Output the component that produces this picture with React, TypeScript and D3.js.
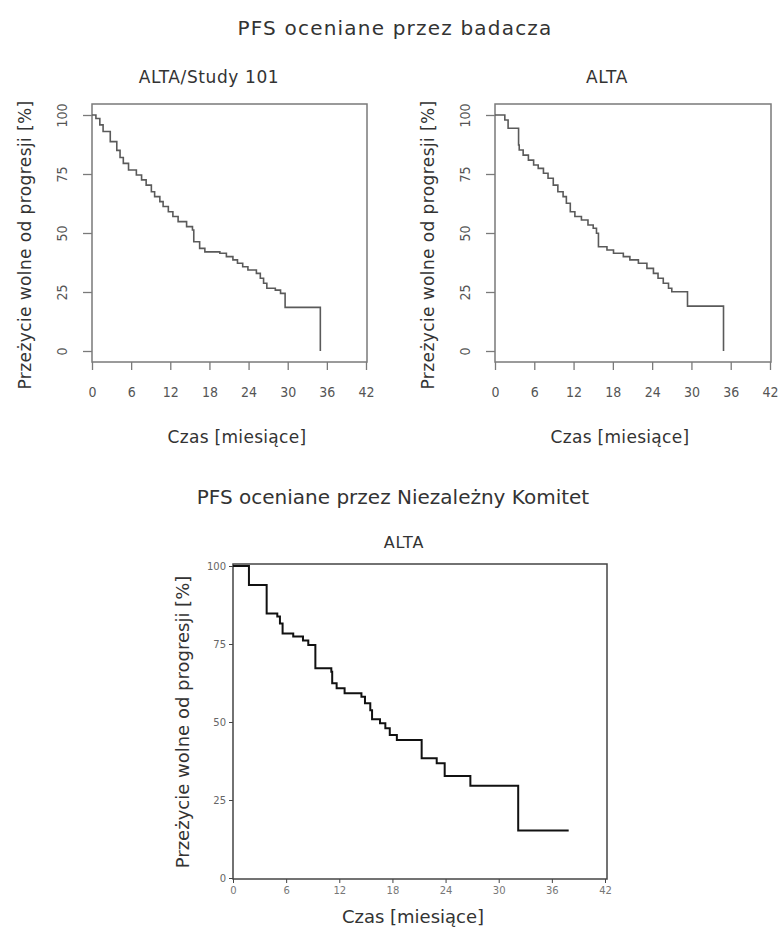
import React, { useEffect, useRef } from "react";
import * as d3 from "d3";

// shared axis ticks
const monthTicks = [0, 6, 12, 18, 24, 30, 36, 42];
const pctTicks = [0, 25, 50, 75, 100];

// PFS wg badacza - ALTA/Study 101
const study101Months = [0, 0.6, 1.2, 1.7, 2.8, 3.8, 4.3, 4.8, 5.6, 6.8, 7.6, 8.3, 9.1, 9.6, 10.4, 10.9, 11.7, 12.4, 13.2, 14.5, 15.4, 15.6, 16.5, 17.3, 19.6, 20.6, 21.6, 22.3, 23.1, 23.9, 25.2, 25.8, 26.3, 26.8, 28.1, 28.9, 29.6, 35.0];
const study101Pfs = [100, 98.5, 95.8, 93, 88.7, 85, 82, 79.5, 76.7, 74.6, 72.5, 70.3, 67.5, 65.4, 63.3, 61.2, 59, 57, 54.8, 52.7, 51.3, 46.3, 43.5, 42, 41.4, 40, 38.6, 37.2, 35.7, 34.3, 32.9, 30.8, 28.7, 26.6, 25.8, 24.4, 18.5, 0];

// PFS wg badacza - ALTA
const altaInvMonths = [0, 1.5, 2.0, 3.6, 3.7, 4.3, 5.1, 5.9, 6.6, 7.4, 8.1, 8.9, 9.6, 10.4, 10.9, 11.5, 12.2, 13.2, 14.2, 15.0, 15.5, 15.8, 17.1, 18.1, 19.6, 20.6, 21.9, 23.2, 24.2, 24.9, 25.7, 26.5, 27.0, 29.4, 34.9];
const altaInvPfs = [100, 97.9, 94.4, 87.3, 85.2, 83, 80.9, 78.8, 77.4, 75.3, 73.2, 70.3, 67.5, 65.4, 62.6, 59, 57, 55.5, 53.4, 52, 49.9, 44.2, 42.8, 41.4, 40, 38.6, 37.2, 35, 32.9, 30.8, 28.7, 26.6, 25.1, 19, 0];

// PFS wg Niezależnego Komitetu - ALTA
const altaIrcMonths = [0, 1.8, 3.8, 5.0, 5.3, 5.6, 6.8, 7.9, 8.5, 9.3, 11.1, 11.2, 11.7, 12.6, 14.5, 14.9, 15.5, 15.7, 16.6, 17.2, 17.7, 18.5, 21.3, 23.0, 23.9, 26.8, 32.2, 37.9];
const altaIrcPfs = [100, 93.9, 84.8, 83.8, 81.6, 78.4, 77.4, 76.1, 74.7, 67.2, 66.1, 62.4, 60.8, 59.2, 58.1, 56, 53.8, 50.9, 49.6, 48, 45.8, 44.2, 38.4, 36.8, 32.7, 29.6, 15.2, 15.2];

const FONT = "'DejaVu Sans', Verdana, sans-serif";
const TICK_FONT = "'DejaVu Sans Condensed', 'DejaVu Sans', sans-serif";
const yTitle = "Przeżycie wolne od progresji [%]";
const xTitle = "Czas [miesiące]";

const App = () => {
  const svgRef = useRef(null);

  const drawTopPanel = (svg, p) => {
    const x = d3.scaleLinear().domain([0, 42]).range([p.left, p.right]);
    const y = d3.scaleLinear().domain([0, 100]).range([351, 115]);
    const data = p.months.map((m, i) => [m, p.pfs[i]]);

    // frame
    svg
      .append("rect")
      .attr("x", p.left)
      .attr("y", 104)
      .attr("width", p.right - p.left + 1)
      .attr("height", 258)
      .attr("fill", "none")
      .attr("stroke", "#7a7a7a")
      .attr("stroke-width", 1.5);

    // x axis
    const gx = svg
      .append("g")
      .attr("transform", "translate(0,362)")
      .call(d3.axisBottom(x).tickValues(monthTicks).tickSize(8).tickPadding(17));
    gx.select(".domain").remove();
    gx.selectAll("line").attr("stroke", "#7a7a7a").attr("stroke-width", 1.3);
    gx.selectAll("text")
      .attr("font-family", TICK_FONT)
      .attr("font-size", 14)
      .attr("fill", "#555");

    // y axis (labels rotated, R style)
    const gy = svg
      .append("g")
      .attr("transform", `translate(${p.left},0)`)
      .call(d3.axisLeft(y).tickValues(pctTicks).tickSize(9));
    gy.select(".domain").remove();
    gy.selectAll("line").attr("stroke", "#7a7a7a").attr("stroke-width", 1.3);
    gy.selectAll("text")
      .attr("x", null)
      .attr("dy", null)
      .attr("transform", "translate(-25,0) rotate(-90)")
      .attr("text-anchor", "middle")
      .attr("font-family", TICK_FONT)
      .attr("font-size", 14)
      .attr("fill", "#555");

    // curve
    const line = d3
      .line()
      .x((d) => x(d[0]))
      .y((d) => y(d[1]))
      .curve(d3.curveStepAfter);
    svg
      .append("path")
      .datum(data)
      .attr("fill", "none")
      .attr("stroke", "#5a5a5a")
      .attr("stroke-width", 1.6)
      .attr("d", line);

    // titles
    svg
      .append("text")
      .attr("x", p.titleX)
      .attr("y", 83)
      .attr("text-anchor", "middle")
      .attr("font-family", FONT)
      .attr("font-size", 17)
      .attr("letter-spacing", 0.6)
      .attr("fill", "#333")
      .text(p.title);
    svg
      .append("text")
      .attr("x", p.xTitleX)
      .attr("y", 443)
      .attr("text-anchor", "middle")
      .attr("font-family", FONT)
      .attr("font-size", 17)
      .attr("letter-spacing", 0.3)
      .attr("fill", "#333")
      .text(xTitle);
    svg
      .append("text")
      .attr("transform", `translate(${p.left - 61},245) rotate(-90)`)
      .attr("text-anchor", "middle")
      .attr("font-family", FONT)
      .attr("font-size", 17)
      .attr("letter-spacing", 0.4)
      .attr("fill", "#333")
      .text(yTitle);
  };

  const drawBottomPanel = (svg) => {
    const x = d3.scaleLinear().domain([0, 42]).range([233, 605]);
    const y = d3.scaleLinear().domain([0, 100]).range([878, 566]);
    const data = altaIrcMonths.map((m, i) => [m, altaIrcPfs[i]]);

    svg
      .append("rect")
      .attr("x", 233)
      .attr("y", 564)
      .attr("width", 374)
      .attr("height", 315)
      .attr("fill", "none")
      .attr("stroke", "#444")
      .attr("stroke-width", 1.5);

    const gx = svg
      .append("g")
      .attr("transform", "translate(0,879)")
      .call(d3.axisBottom(x).tickValues(monthTicks).tickSize(4).tickPadding(4));
    gx.select(".domain").remove();
    gx.selectAll("line").attr("stroke", "#444");
    gx.selectAll("text")
      .attr("font-family", FONT)
      .attr("font-size", 10)
      .attr("fill", "#777");

    const gy = svg
      .append("g")
      .attr("transform", "translate(233,0)")
      .call(d3.axisLeft(y).tickValues(pctTicks).tickSize(4).tickPadding(3));
    gy.select(".domain").remove();
    gy.selectAll("line").attr("stroke", "#444");
    gy.selectAll("text")
      .attr("font-family", FONT)
      .attr("font-size", 10)
      .attr("fill", "#666");

    const line = d3
      .line()
      .x((d) => x(d[0]))
      .y((d) => y(d[1]))
      .curve(d3.curveStepAfter);
    svg
      .append("path")
      .datum(data)
      .attr("fill", "none")
      .attr("stroke", "#111")
      .attr("stroke-width", 2)
      .attr("d", line);

    svg
      .append("text")
      .attr("x", 404)
      .attr("y", 548)
      .attr("text-anchor", "middle")
      .attr("font-family", FONT)
      .attr("font-size", 16)
      .attr("letter-spacing", 0.8)
      .attr("fill", "#333")
      .text("ALTA");
    svg
      .append("text")
      .attr("x", 413)
      .attr("y", 923)
      .attr("text-anchor", "middle")
      .attr("font-family", FONT)
      .attr("font-size", 18)
      .attr("fill", "#333")
      .text(xTitle);
    svg
      .append("text")
      .attr("transform", "translate(189,722) rotate(-90)")
      .attr("text-anchor", "middle")
      .attr("font-family", FONT)
      .attr("font-size", 18)
      .attr("fill", "#333")
      .text(yTitle);
  };

  useEffect(() => {
    const svg = d3.select(svgRef.current);
    svg.selectAll("*").remove();

    svg
      .append("text")
      .attr("x", 395)
      .attr("y", 35)
      .attr("text-anchor", "middle")
      .attr("font-family", FONT)
      .attr("font-size", 20)
      .attr("letter-spacing", 1.2)
      .attr("fill", "#333")
      .text("PFS oceniane przez badacza");

    svg
      .append("text")
      .attr("x", 393)
      .attr("y", 504)
      .attr("text-anchor", "middle")
      .attr("font-family", FONT)
      .attr("font-size", 20)
      .attr("fill", "#333")
      .text("PFS oceniane przez Niezależny Komitet");

    drawTopPanel(svg, {
      left: 92,
      right: 366,
      months: study101Months,
      pfs: study101Pfs,
      title: "ALTA/Study 101",
      titleX: 209,
      xTitleX: 237,
    });
    drawTopPanel(svg, {
      left: 495,
      right: 770,
      months: altaInvMonths,
      pfs: altaInvPfs,
      title: "ALTA",
      titleX: 607,
      xTitleX: 620,
    });
    drawBottomPanel(svg);
  }, []);

  return (
    <svg
      ref={svgRef}
      width={783}
      height={929}
      style={{ position: "absolute", left: 0, top: 0, background: "#fff" }}
    ></svg>
  );
};

export default App;
